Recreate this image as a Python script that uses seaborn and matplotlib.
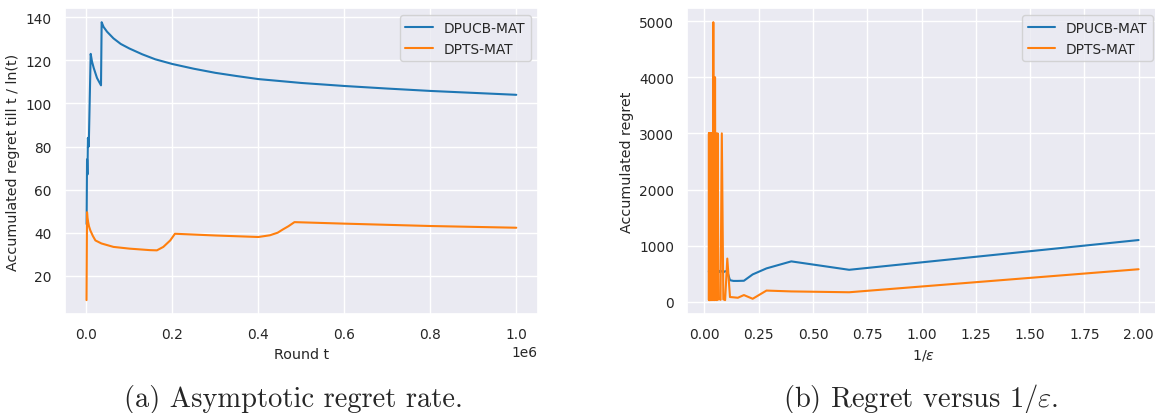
import numpy as np
import pandas as pd
import matplotlib.pyplot as plt
import seaborn as sns

sns.set_theme(style="darkgrid", palette="tab10", font_scale=0.9,
              rc={"axes.labelsize": 10.3})

methods = ["DPUCB-MAT", "DPTS-MAT"]

# (a) regret / ln(t) against round t
t_ucb = [500, 1500, 2500, 3500, 5500, 10000, 13000, 17000, 24700, 34000,
         35500, 40000, 48000, 63000, 80000, 100000, 130000, 160000, 200000,
         250000, 300000, 350000, 400000, 500000, 600000, 700000, 800000,
         900000, 1000000]
r_ucb = [44, 74, 67, 84, 80, 123, 119.5, 116.5, 111.8, 108.4,
         137.7, 135.5, 133.3, 130.2, 127.6, 125.5, 122.8, 120.5, 118.3,
         116.1, 114.2, 112.7, 111.3, 109.5, 108.1, 106.9, 105.8,
         104.9, 104.0]

t_ts = [300, 1500, 2500, 4000, 6000, 9300, 15000, 21000, 35000, 63000,
        100000, 148000, 164000, 179000, 195000, 206000, 300000, 400000,
        427000, 445000, 457000, 470000, 484000, 600000, 800000, 1000000]
r_ts = [8.7, 49.5, 47, 45, 43, 41, 38.5, 36.4, 35, 33.4,
        32.6, 31.9, 31.8, 33.4, 36.4, 39.5, 38.7, 38.0,
        38.8, 40.0, 41.5, 43.0, 44.9, 44.2, 43.1, 42.3]

# (b) accumulated regret against 1/epsilon
eps = [0.5, 1.5, 2.5, 3.5, 4.5, 5.5, 6.5, 7.5, 8.5, 9.5,
       10.5, 11.5, 12.5, 13.5, 14.5, 15.5, 16.5, 17.5, 18.5, 19.5,
       20.5, 21.5, 22.5, 23.5, 24.5, 25.5, 26.5, 27.5, 28.5, 29.5,
       30.5, 31.5, 32.5, 33.5, 34.5, 35.5, 36.5, 37.5, 38.5, 39.5,
       40.5, 41.5, 42.5, 43.5, 44.5, 45.5, 46.5, 47.5, 48.5, 49.5]
reg_ucb = [1100, 570, 720, 595, 488, 375, 372, 372, 385, 540,
           545, 525, 540, 555, 530, 545, 520, 550, 535, 545,
           525, 555, 540, 530, 550, 520, 545, 535, 555, 525,
           540, 550, 530, 545, 520, 555, 535, 545, 525, 550,
           540, 530, 555, 520, 545, 535, 550, 525, 540, 545]
reg_ts = [580, 170, 185, 200, 54, 120, 72, 80, 85, 770,
          30, 45, 3000, 35, 60, 40, 3000, 30, 3000, 40,
          4000, 30, 3000, 50, 4980, 30, 3000, 40, 3000, 35,
          3000, 30, 3000, 45, 3000, 30, 3000, 40, 3000, 30,
          3000, 35, 3000, 30, 3000, 40, 3000, 30, 3000, 35]

df_a = pd.DataFrame({
    "t": t_ucb + t_ts,
    "r": r_ucb + r_ts,
    "method": [methods[0]] * len(t_ucb) + [methods[1]] * len(t_ts),
})
inv_eps = [1 / e for e in eps]
df_b = pd.DataFrame({
    "x": inv_eps + inv_eps,
    "r": reg_ucb + reg_ts,
    "method": [methods[0]] * len(eps) + [methods[1]] * len(eps),
})

fig = plt.figure(figsize=(11.55, 4.14), dpi=100)
ax1 = fig.add_axes([0.0563, 0.2391, 0.4093, 0.7384])
ax2 = fig.add_axes([0.5951, 0.2391, 0.4093, 0.7384])

sns.lineplot(data=df_a, x="t", y="r", hue="method", hue_order=methods,
             estimator=None, sort=False, ax=ax1)
ax1.set_xlabel("Round t")
ax1.set_ylabel("Accumulated regret till t / ln(t)")
sns.move_legend(ax1, "upper right", title=None)

sns.lineplot(data=df_b, x="x", y="r", hue="method", hue_order=methods,
             estimator=None, sort=True, ax=ax2)
ax2.set_xlabel(r"1/$\varepsilon$")
ax2.set_ylabel("Accumulated regret")
sns.move_legend(ax2, "upper right", title=None)

# subfigure captions, LaTeX look
fig.text(0.254, 0.0162, "(a) Asymptotic regret rate.", ha="center",
         va="baseline", fontsize=20.5, family="cmr10")
fig.text(0.797, 0.0162, r"(b) Regret versus $1/\varepsilon$.", ha="center",
         va="baseline", fontsize=20.5, family="cmr10", math_fontfamily="cm")

fig.savefig("out.png", dpi=100)
